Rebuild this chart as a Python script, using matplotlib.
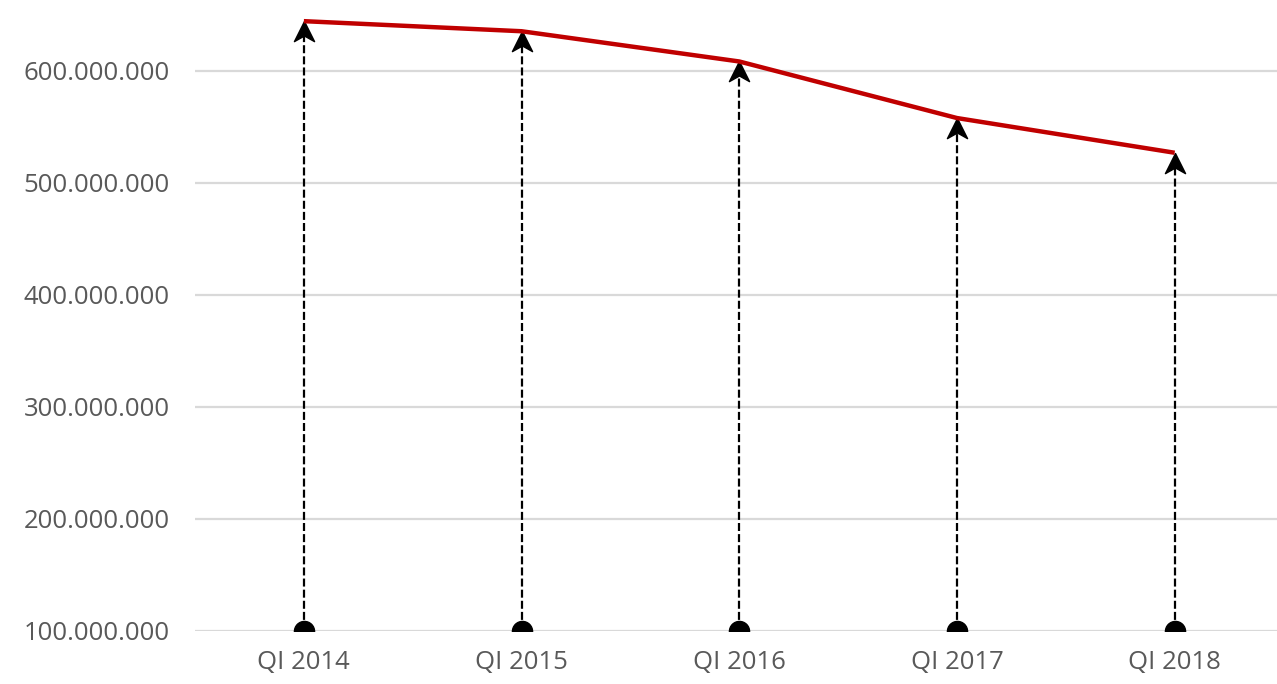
import matplotlib.pyplot as plt
from matplotlib.path import Path
from matplotlib.ticker import FuncFormatter

quarters = ['QI 2014', 'QI 2015', 'QI 2016', 'QI 2017', 'QI 2018']
values = [644.5e6, 635.5e6, 608.5e6, 558e6, 527e6]
base = 100e6

plt.rcParams['font.family'] = ['Open Sans', 'DejaVu Sans']

fig = plt.figure(figsize=(12.77, 6.84), dpi=100)
ax = fig.add_axes([195 / 1277, 53 / 684, 1 - 195 / 1277, 1 - 53 / 684])

x = list(range(len(quarters)))

# stealth-style arrow head, tip at origin
head = Path([(0, 0), (-0.5, -1), (0, -0.72), (0.5, -1), (0, 0)],
            [Path.MOVETO, Path.LINETO, Path.LINETO, Path.LINETO, Path.CLOSEPOLY])

for xi, v in zip(x, values):
    ax.plot([xi, xi], [base, v - 12e6], color='black', lw=1.6,
            dashes=(3.6, 1.4), zorder=3)
ax.plot(x, values, ls='none', marker=head, ms=29, color='black', zorder=4)
ax.plot(x, [base] * len(x), ls='none', marker='o', ms=14.5, color='black',
        zorder=5, clip_on=True)
ax.plot(x, values, color='#C00000', lw=3.2, zorder=6, solid_capstyle='butt')

ax.set_xlim(-0.5, 4.47)
ax.set_ylim(base, base + 631 / 1.12 * 1e6)
ax.set_yticks([100e6, 200e6, 300e6, 400e6, 500e6, 600e6])
ax.yaxis.set_major_formatter(FuncFormatter(lambda v, p: f'{int(v):,}'.replace(',', '.')))
ax.set_xticks(x)
ax.set_xticklabels(quarters)
ax.grid(axis='y', color='#d9d9d9', lw=1.6, zorder=0)
ax.set_axisbelow(True)
for s in ax.spines.values():
    s.set_visible(False)
ax.tick_params(length=0, labelsize=18.5, colors='#595959')
ax.tick_params(axis='y', pad=18)
ax.tick_params(axis='x', pad=14)

fig.savefig('out.png', dpi=100)
